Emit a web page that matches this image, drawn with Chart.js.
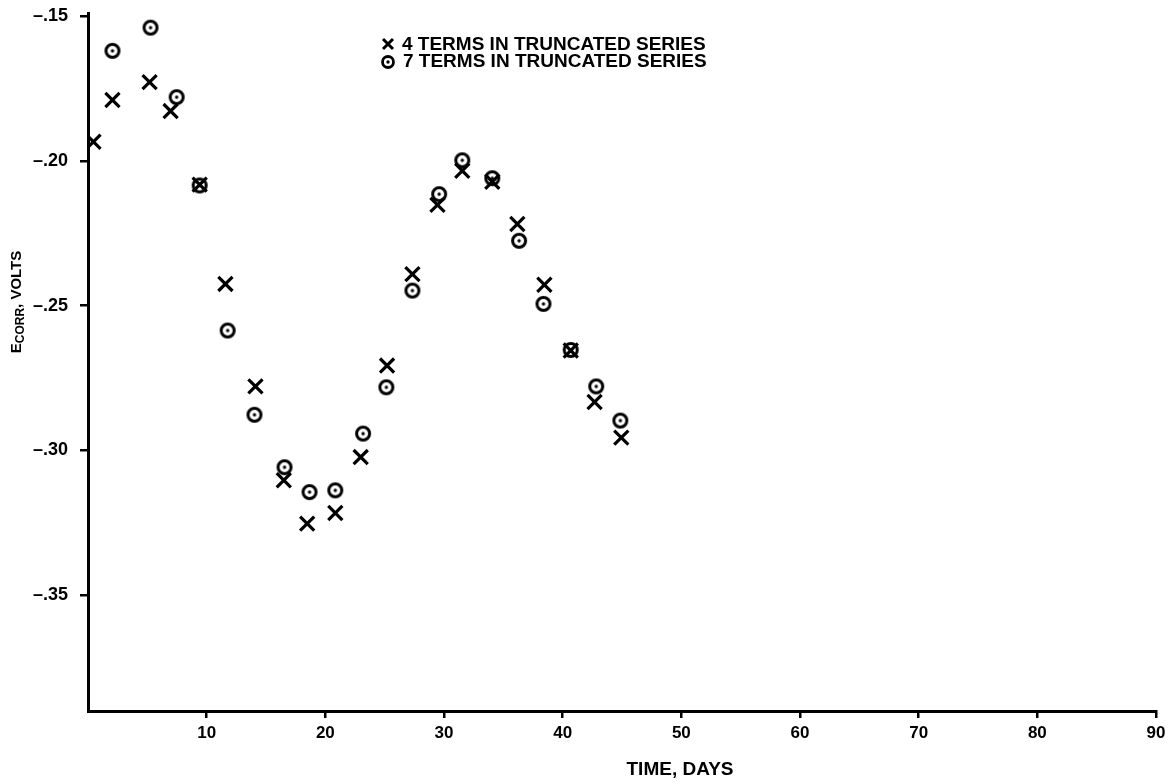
<!DOCTYPE html>
<html>
<head>
<meta charset="utf-8">
<script src="https://cdn.jsdelivr.net/npm/chart.js@4.4.1/dist/chart.umd.min.js"></script>
<style>
  html, body { margin: 0; padding: 0; background: #fff; }
  #wrap { width: 1170px; height: 784px; }
</style>
</head>
<body>
<div id="wrap"><canvas id="chart" width="1170" height="784"></canvas></div>
<script>
// E_corr vs time, truncated-series fits (4 and 7 terms)

var daysX4  = [0.46, 2.06, 5.19, 6.96, 9.41, 11.58, 14.11, 16.50, 18.47, 20.84, 22.98, 25.20, 27.34, 29.45, 31.54, 34.07, 36.18, 38.46, 40.68, 42.69, 44.94];
var voltsX4 = [-0.1934, -0.1790, -0.1728, -0.1828, -0.2082, -0.2425, -0.2779, -0.3103, -0.3253, -0.3216, -0.3023, -0.2707, -0.2391, -0.2152, -0.2034, -0.2072, -0.2218, -0.2428, -0.2655, -0.2833, -0.2956];

var daysO7  = [2.06, 5.27, 7.47, 9.41, 11.77, 14.03, 16.56, 18.67, 20.84, 23.18, 25.14, 27.34, 29.59, 31.54, 34.07, 36.33, 38.38, 40.68, 42.83, 44.86];
var voltsO7 = [-0.1620, -0.1540, -0.1780, -0.2085, -0.2586, -0.2877, -0.3058, -0.3144, -0.3138, -0.2942, -0.2782, -0.2448, -0.2115, -0.1998, -0.2060, -0.2276, -0.2494, -0.2653, -0.2779, -0.2897];

var xTicks = [10, 20, 30, 40, 50, 60, 70, 80, 90];
var yTicks = [-0.15, -0.20, -0.25, -0.30, -0.35];

var legendLabels = ['4 TERMS IN TRUNCATED SERIES', '7 TERMS IN TRUNCATED SERIES'];
var xTitle = 'TIME, DAYS';

var FONT = '"Liberation Sans", Arial, sans-serif';

function toPoints(xs, ys) {
  return xs.map(function(x, i) { return { x: x, y: ys[i] }; });
}

// circle with a centre dot
function dotCircle(r, lw) {
  var size = Math.ceil(2 * r + lw + 2);
  var c = document.createElement('canvas');
  c.width = size; c.height = size;
  var g = c.getContext('2d');
  g.strokeStyle = '#000'; g.fillStyle = '#000'; g.lineWidth = lw;
  g.beginPath(); g.arc(size / 2, size / 2, r, 0, Math.PI * 2); g.stroke();
  g.beginPath(); g.arc(size / 2, size / 2, 1.7, 0, Math.PI * 2); g.fill();
  return c;
}

function drawCross(ctx, x, y, h, lw) {
  ctx.save();
  ctx.strokeStyle = '#000'; ctx.lineWidth = lw;
  ctx.beginPath();
  ctx.moveTo(x - h, y - h); ctx.lineTo(x + h, y + h);
  ctx.moveTo(x - h, y + h); ctx.lineTo(x + h, y - h);
  ctx.stroke();
  ctx.restore();
}

var circleImg = dotCircle(6.5, 3);
var legendCircle = dotCircle(5.5, 2.8);

var textPlugin = {
  id: 'textPlugin',
  afterDraw: function(chart) {
    var ctx = chart.ctx;
    ctx.save();
    ctx.fillStyle = '#000';
    ctx.textBaseline = 'middle';

    // legend
    drawCross(ctx, 388, 44, 5, 3);
    ctx.drawImage(legendCircle, 388 - legendCircle.width / 2, 62 - legendCircle.height / 2);
    ctx.font = 'bold 19px ' + FONT;
    ctx.textAlign = 'left';
    ctx.fillText(legendLabels[0], 402, 45);
    ctx.fillText(legendLabels[1], 403, 62);

    // x title
    ctx.font = 'bold 19px ' + FONT;
    ctx.textAlign = 'center';
    ctx.fillText(xTitle, 680, 770);

    // y title: E with CORR subscript
    ctx.translate(17, 302);
    ctx.rotate(-Math.PI / 2);
    ctx.textAlign = 'left';
    var mainF = 'bold 15px ' + FONT, subF = 'bold 12px ' + FONT;
    ctx.font = mainF; var wE = ctx.measureText('E').width; var wRest = ctx.measureText(', VOLTS').width;
    ctx.font = subF;  var wSub = ctx.measureText('CORR').width;
    var x0 = -(wE + wSub + wRest) / 2;
    ctx.font = mainF; ctx.fillText('E', x0, 0);
    ctx.font = subF;  ctx.fillText('CORR', x0 + wE, 4);
    ctx.font = mainF; ctx.fillText(', VOLTS', x0 + wE + wSub, 0);
    ctx.restore();
  }
};

new Chart(document.getElementById('chart').getContext('2d'), {
  type: 'scatter',
  data: {
    datasets: [
      {
        label: legendLabels[0],
        data: toPoints(daysX4, voltsX4),
        pointStyle: 'crossRot', pointRadius: 10, pointBorderWidth: 3.2,
        borderColor: '#000', backgroundColor: '#000'
      },
      {
        label: legendLabels[1],
        data: toPoints(daysO7, voltsO7),
        pointStyle: circleImg, pointRadius: 8,
        borderColor: '#000', backgroundColor: '#000'
      }
    ]
  },
  options: {
    responsive: false,
    animation: false,
    events: [],
    layout: { padding: { left: 0, top: 12, right: 14, bottom: 0 } },
    plugins: { legend: { display: false }, tooltip: { enabled: false } },
    scales: {
      x: {
        type: 'linear', min: 0, max: 90,
        afterBuildTicks: function(s) { s.ticks = xTicks.map(function(v) { return { value: v }; }); },
        afterFit: function(s) { s.height = 73; s.paddingLeft = 0; s.paddingRight = 0; },
        border: { color: '#000', width: 3 },
        grid: { drawOnChartArea: false, color: '#000', lineWidth: 2.5, tickLength: 7 },
        ticks: { color: '#000', padding: 5, maxRotation: 0, font: { family: FONT, size: 17, weight: 'bold' } }
      },
      y: {
        type: 'linear', min: -0.39, max: -0.149,
        afterBuildTicks: function(s) { s.ticks = yTicks.map(function(v) { return { value: v }; }); },
        afterFit: function(s) { s.width = 88; s.paddingTop = 0; s.paddingBottom = 0; },
        border: { color: '#000', width: 3 },
        grid: { drawOnChartArea: false, color: '#000', lineWidth: 2.5, tickLength: 8 },
        ticks: {
          color: '#000', padding: 12, font: { family: FONT, size: 18, weight: 'bold' },
          callback: function(v) { return '\u2013' + Math.abs(v).toFixed(2).slice(1); }
        }
      }
    }
  },
  plugins: [textPlugin]
});
</script>
</body>
</html>
